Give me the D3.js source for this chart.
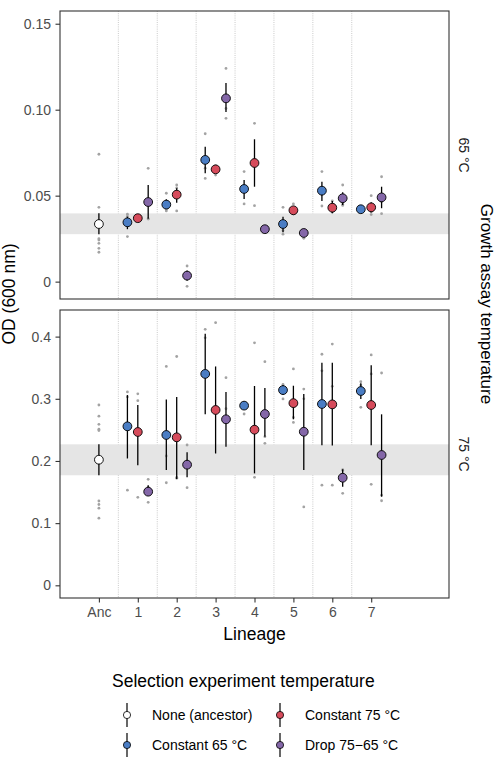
<!DOCTYPE html>
<html><head><meta charset="utf-8">
<script src="https://cdn.jsdelivr.net/npm/d3@7"></script>
<style>
body{margin:0;background:#fff;}
text{font-family:"Liberation Sans",Arial,sans-serif;}
</style></head><body>
<svg id="chart" width="498" height="769"></svg>
<script>
// ---------- DATA ----------
const xLabels = ["Anc","1","2","3","4","5","6","7"];
const lineages = [1,2,3,4,5,6,7];
const treatments = ["None (ancestor)","Constant 65 °C","Constant 75 °C","Drop 75\u221265 °C"];
const treatColors = ["#FFFFFF","#4A7DC4","#D64B5B","#8467A8"];
const panels = ["65 °C","75 °C"];

// Assay 65 °C
const anc65Stats = [0.0335, 0.0276, 0.0397]; // mean, lower, upper
const anc65Reps = [0.0741, 0.0432, 0.0250, 0.0242, 0.0223, 0.0194, 0.0171];
const c65at65Mean = [0.0345,0.0448,0.0708,0.0539,0.0335,0.0529,0.0421];
const c65at65Lo   = [0.0305,0.0427,0.0630,0.0481,0.0287,0.0469,0.0415];
const c65at65Hi   = [0.0378,0.0479,0.0785,0.0591,0.0378,0.0581,0.0428];
const c65at65Reps = [[0.0392,0.0262,0.038],[0.0514,0.0411,0.042],[0.086,0.060,0.066],[0.064,0.0452,0.0525],[0.0432,0.0276,0.0297],[0.064,0.044,0.0507],[0.0425,0.0418,0.042]];
const c75at65Mean = [0.0369,0.0506,0.0653,0.0690,0.0415,0.0430,0.0432];
const c75at65Lo   = [0.0362,0.0459,0.0637,0.0552,0.0400,0.0398,0.0403];
const c75at65Hi   = [0.0376,0.0543,0.0668,0.0828,0.0430,0.0469,0.0462];
const c75at65Reps = [[0.037,0.0365,0.0372],[0.0562,0.0411,0.0545],[0.0674,0.0645,0.062],[0.0921,0.0442,0.0707],[0.0452,0.040,0.0393],[0.0469,0.0405,0.0416],[0.050,0.0405,0.039]];
const dropat65Mean = [0.0463,0.0035,0.1066,0.0305,0.0283,0.0485,0.0490];
const dropat65Lo   = [0.0366,0.0005,0.0986,0.0300,0.0278,0.0446,0.0427];
const dropat65Hi   = [0.0562,0.0065,0.1155,0.0310,0.0288,0.0520,0.0552];
const dropat65Reps = [[0.0659,0.0365,0.0365],[0.0091,-0.0027,0.0041],[0.124,0.095,0.1007],[0.031,0.030,0.0305],[0.0252,0.030,0.0297],[0.0562,0.045,0.0443],[0.061,0.0395,0.0465]];

// Assay 75 °C
const anc75Stats = [0.202, 0.177, 0.2268];
const anc75Reps = [0.290, 0.272, 0.259, 0.251, 0.249, 0.1356, 0.130, 0.124, 0.108];
const c65at75Mean = [0.2557,0.2418,0.340,0.289,0.314,0.2916,0.3125];
const c65at75Lo   = [0.204,0.1855,0.275,0.284,0.306,0.2252,0.2997];
const c65at75Hi   = [0.306,0.299,0.4047,0.293,0.322,0.358,0.325];
const c65at75Reps = [[0.311,0.153,0.303],[0.352,0.165,0.208],[0.4117,0.398,0.34],[0.294,0.2755,0.29],[0.323,0.2997,0.314],[0.3716,0.345,0.161],[0.3275,0.2863,0.322]];
const c75at75Mean = [0.2466,0.238,0.282,0.2503,0.293,0.291,0.290];
const c75at75Lo   = [0.193,0.171,0.212,0.180,0.267,0.225,0.2252];
const c75at75Hi   = [0.290,0.303,0.352,0.3206,0.321,0.358,0.354];
const c75at75Reps = [[0.308,0.297,0.1415],[0.368,0.1737,0.172],[0.4224,0.283,0.28],[0.390,0.1737,0.25],[0.348,0.262,0.27],[0.388,0.32,0.161],[0.3705,0.34,0.1625]];
const dropat75Mean = [0.1506,0.194,0.267,0.2755,0.247,0.173,0.2096];
const dropat75Lo   = [0.144,0.1737,0.223,0.239,0.1855,0.1586,0.1425];
const dropat75Hi   = [0.161,0.214,0.311,0.3174,0.3077,0.1866,0.275];
const dropat75Reps = [[0.1705,0.1335,0.158],[0.2257,0.157,0.2],[0.334,0.284,0.267],[0.3597,0.2284,0.239],[0.3157,0.30,0.126],[0.148,0.185,0.186],[0.3415,0.145,0.136]];

const yTicks65 = [0, 0.05, 0.10, 0.15];
const yTickLabels65 = ["0","0.05","0.10","0.15"];
const yTicks75 = [0, 0.1, 0.2, 0.3, 0.4];
const yTickLabels75 = ["0","0.1","0.2","0.3","0.4"];

// ---------- BUILD ----------
function buildPanel(ancStats, ancReps, means, los, his, reps){
  const pts = [{x:0, t:0, mean:ancStats[0], lo:ancStats[1], hi:ancStats[2], reps:ancReps}];
  for(let t=1;t<=3;t++){
    lineages.forEach((l,i)=>{
      pts.push({x:l, t:t, mean:means[t-1][i], lo:los[t-1][i], hi:his[t-1][i], reps:reps[t-1][i]});
    });
  }
  return pts;
}
const data65 = buildPanel(anc65Stats, anc65Reps,
  [c65at65Mean,c75at65Mean,dropat65Mean],[c65at65Lo,c75at65Lo,dropat65Lo],[c65at65Hi,c75at65Hi,dropat65Hi],
  [c65at65Reps,c75at65Reps,dropat65Reps]);
const data75 = buildPanel(anc75Stats, anc75Reps,
  [c65at75Mean,c75at75Mean,dropat75Mean],[c65at75Lo,c75at75Lo,dropat75Lo],[c65at75Hi,c75at75Hi,dropat75Hi],
  [c65at75Reps,c75at75Reps,dropat75Reps]);

const svg = d3.select("#chart");
const L = 60, R = 449;
const x = d3.scaleLinear().domain([-1, 9]).range([L, R]);
const dodge = [0, -0.267, 0, 0.267];
const FONT = "Liberation Sans, Arial, sans-serif";

const panelDefs = [
  {data:data65, top:11, bottom:299, domain:[-0.0101,0.1574], ticks:yTicks65, labels:yTickLabels65, strip:panels[0], anc:anc65Stats, showX:false},
  {data:data75, top:310, bottom:598, domain:[-0.0204,0.4428], ticks:yTicks75, labels:yTickLabels75, strip:panels[1], anc:anc75Stats, showX:true}
];

panelDefs.forEach(p=>{
  const y = d3.scaleLinear().domain(p.domain).range([p.bottom, p.top]);
  const g = svg.append("g");
  g.append("rect").attr("x",L).attr("y",p.top).attr("width",R-L).attr("height",p.bottom-p.top).attr("fill","#fff");
  // vertical grid lines between lineages
  g.selectAll("line.grid").data(d3.range(0.5,7,1)).enter().append("line")
    .attr("x1",d=>x(d)).attr("x2",d=>x(d)).attr("y1",p.top).attr("y2",p.bottom)
    .attr("stroke","#bdbdbd").attr("stroke-width",0.8).attr("stroke-dasharray","1,1.2");
  // ancestor band
  g.append("rect").attr("x",L).attr("width",R-L)
    .attr("y",y(p.anc[2])).attr("height",y(p.anc[1])-y(p.anc[2])).attr("fill","#E5E5E5");
  // replicate dots
  const reps = [];
  p.data.forEach(d=>d.reps.forEach(v=>reps.push({x:d.x+dodge[d.t], v:v})));
  g.selectAll("circle.rep").data(reps).enter().append("circle")
    .attr("cx",d=>x(d.x)).attr("cy",d=>y(d.v)).attr("r",1.4).attr("fill","#A3A3A3");
  // error bars
  g.selectAll("line.err").data(p.data).enter().append("line")
    .attr("x1",d=>x(d.x+dodge[d.t])).attr("x2",d=>x(d.x+dodge[d.t]))
    .attr("y1",d=>y(d.lo)).attr("y2",d=>y(d.hi)).attr("stroke","#000").attr("stroke-width",1.3);
  // mean points
  g.selectAll("circle.mean").data(p.data).enter().append("circle")
    .attr("cx",d=>x(d.x+dodge[d.t])).attr("cy",d=>y(d.mean)).attr("r",4.4)
    .attr("fill",d=>treatColors[d.t]).attr("stroke","#000").attr("stroke-width",0.9);
  // border
  g.append("rect").attr("x",L).attr("y",p.top).attr("width",R-L).attr("height",p.bottom-p.top)
    .attr("fill","none").attr("stroke","#333").attr("stroke-width",1.1);
  // y axis
  const ya = svg.append("g").attr("transform",`translate(${L},0)`)
    .call(d3.axisLeft(y).tickValues(p.ticks).tickFormat((d,i)=>p.labels[i]).tickSize(4.5).tickPadding(4.5));
  ya.select(".domain").remove();
  ya.selectAll(".tick line").attr("stroke","#333").attr("stroke-width",1.1);
  ya.selectAll(".tick text").attr("fill","#4D4D4D").style("font-size","14px").style("font-family",FONT);
  // strip text
  svg.append("text").attr("transform",`translate(459,${(p.top+p.bottom)/2}) rotate(90)`)
    .attr("text-anchor","middle").attr("fill","#1A1A1A").style("font-size","14px").text(p.strip);
  if(p.showX){
    const xa = svg.append("g").attr("transform",`translate(0,${p.bottom})`)
      .call(d3.axisBottom(x).tickValues(d3.range(0,8)).tickFormat(i=>xLabels[i]).tickSize(4.5).tickPadding(4.5));
    xa.select(".domain").remove();
    xa.selectAll(".tick line").attr("stroke","#333").attr("stroke-width",1.1);
    xa.selectAll(".tick text").attr("fill","#4D4D4D").style("font-size","14px").style("font-family",FONT);
  }
});

// axis titles
svg.append("text").attr("transform","translate(15,294) rotate(-90)").attr("text-anchor","middle")
  .style("font-size","17.5px").attr("fill","#000").text("OD (600 nm)");
svg.append("text").attr("x",254.5).attr("y",639.5).attr("text-anchor","middle")
  .style("font-size","17.5px").attr("fill","#000").text("Lineage");
svg.append("text").attr("transform","translate(481,304) rotate(90)").attr("text-anchor","middle")
  .style("font-size","17px").attr("fill","#000").text("Growth assay temperature");

// legend
const lg = svg.append("g");
lg.append("text").attr("x",112).attr("y",686.5).style("font-size","17.5px").attr("fill","#000").text("Selection experiment temperature");
const legPos = [{x:127,y:715},{x:127,y:745},{x:280,y:715},{x:280,y:745}];
treatments.forEach((t,i)=>{
  const p = legPos[i];
  lg.append("line").attr("x1",p.x).attr("x2",p.x).attr("y1",p.y-12).attr("y2",p.y+12).attr("stroke","#000").attr("stroke-width",1.2);
  lg.append("circle").attr("cx",p.x).attr("cy",p.y).attr("r",3.6).attr("fill",treatColors[i]).attr("stroke","#000").attr("stroke-width",0.8);
  lg.append("text").attr("x",p.x+25).attr("y",p.y+5).style("font-size","14px").attr("fill","#000").text(t);
});
</script></body></html>
